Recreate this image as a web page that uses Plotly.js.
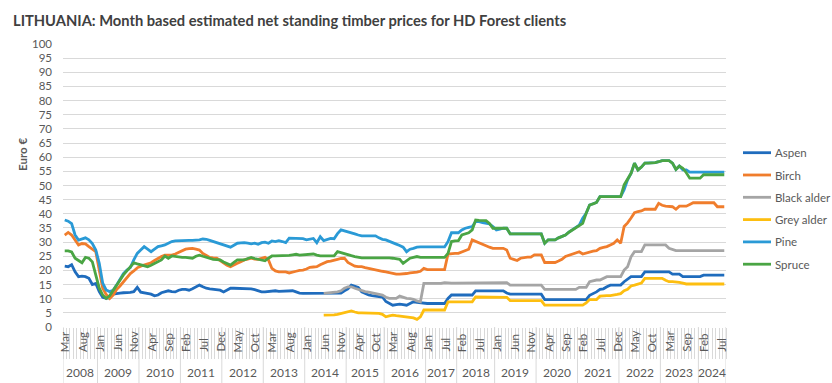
<!DOCTYPE html>
<html>
<head>
<meta charset="utf-8">
<script src="https://cdn.plot.ly/plotly-3.0.1.min.js"></script>
<style>html,body{margin:0;padding:0;background:#fff;}#chart{width:832px;height:383px;}</style>
</head>
<body>
<div id="chart"></div>
<script>
// ---- data (one value per monthly observation, Mar 2008 - Aug 2024, some months absent) ----
const years = ['2008','2009','2010','2011','2012','2013','2014','2015','2016','2017','2018','2019','2020','2021','2022','2023','2024'];
const yearCounts = [10,12,12,12,12,12,12,11,12,9,11,12,12,12,12,11,8];
const tickMonths = ['Mar','Aug','Jan','Jun','Nov','Apr','Sep','Feb','Jul','Dec','May','Oct','Mar','Aug','Jan','Jun','Nov','Apr','Oct','Mar','Aug','Jan','Jul','Feb','Jul','Jan','Jun','Nov','Apr','Sep','Feb','Jul','Dec','May','Oct','Mar','Sep','Feb','Jul'];
const tickStep = 5;
const seriesNames = ['Aspen','Birch','Black alder','Grey alder','Pine','Spruce'];

const aspen = [
21.5,21.3,22,19.5,17.8,18,17.8,17.2,15,15.4,
12.5,10.5,10.1,10.3,11.6,11.9,12,12.1,12.1,12.2,
12.5,14,12.3,12,11.8,11.6,11,11.3,12.1,12.5,
12.8,12.5,12.4,13,13.3,13.3,13,13.5,14.2,14.8,
14.2,13.7,13.5,13.3,13.2,13,12.4,13,13.7,13.7,
13.7,13.7,13.7,13.7,13.5,13.2,12.8,12.4,12.4,12.6,
12.8,12.8,12.6,12.6,12.8,12.8,12.8,12.4,12,11.9,
11.9,11.9,11.9,11.9,11.9,12,12,12.1,12,11.9,
12,12.8,13.5,14.8,14.5,14,12.4,11.8,11.3,11.1,
10.9,10.8,10.6,9,8.4,7.7,7.9,8.1,7.9,7.7,
8.3,8.9,8.7,8.5,8.3,8.3,8.3,8.3,8.3,8.3,
8.3,10.1,11.3,11.3,11.3,11.3,11.3,11.3,11.3,12.8,
12.8,12.8,12.8,12.8,12.8,12.8,12.8,12.8,12,11.6,
11.6,11.6,11.6,11.6,11.6,11.6,11.6,11.6,11.6,9.7,
9.7,9.7,9.7,9.7,9.7,9.7,9.7,9.7,9.7,9.7,
9.7,9.7,11.2,11.8,12.4,13.3,13.5,14.2,14.8,14.8,
14.8,14.8,16,16.8,17.8,17.8,17.8,17.8,19.5,19.5,
19.5,19.5,19.5,19.5,19.5,19.5,18.7,18.7,18.7,17.8,
17.8,17.8,17.8,17.8,17.8,18.3,18.3,18.3,18.3,18.3,
18.3,18.3];

const birch = [
32.5,33.4,32.5,30.8,29,29.5,29.4,28.4,27.5,26.6,
20.1,13.7,11.5,10.1,11.3,13.2,14.5,16,17.5,18.9,
19.8,20.9,21.5,21.9,22.3,22.7,23.5,24.3,24.9,25.4,
25.4,25.4,25.8,26.3,27,27.5,27.7,27.8,27.5,27.2,
26,25.2,24.6,24.4,24.3,23.5,22.5,21.8,21.3,21.8,
22.5,23.1,23.7,24,24.3,24,23.9,24.3,24.6,23.7,
20.7,19.8,19.5,19.5,19.5,19.1,19.3,19.7,20,20.1,
20.5,21.1,21.2,21.3,22,22.5,23.1,23.3,23.7,23.9,
24.2,24.3,22.8,22.2,21.5,21.3,21.3,21,20.7,20.4,
20.1,19.9,19.7,19.5,19.2,18.8,18.7,18.7,18.7,18.9,
19.1,19.2,19.4,19.7,20.7,20.3,20.3,20.3,20.3,20.3,
20.3,25.8,26,26,26,26.5,27.2,27.5,30.8,30.2,
29.6,29.2,28.7,28.2,27.8,27.8,27.8,27.8,27.2,24.3,
23.9,23.5,24.3,24.6,24.7,24.7,25.5,25.5,25.5,22.8,
22.8,22.8,22.8,23.3,23.9,24.9,25.3,25.8,26.2,26.6,
25.8,26.2,26.6,26.8,27,27.8,28.1,28.4,29,29.6,
30.8,29.6,35.5,36.8,38.5,40.4,40.8,41,41.6,41.6,
41.6,41.6,43.7,43,42.7,42.6,42.5,41.6,42.7,42.7,
42.7,43.3,43.9,43.9,43.9,43.9,43.9,43.9,43.9,42.5,
42.5,42.5];

const blackAlder = [
null,null,null,null,null,null,null,null,null,null,
null,null,null,null,null,null,null,null,null,null,
null,null,null,null,null,null,null,null,null,null,
null,null,null,null,null,null,null,null,null,null,
null,null,null,null,null,null,null,null,null,null,
null,null,null,null,null,null,null,null,null,null,
null,null,null,null,null,null,null,null,null,null,
null,null,null,null,null,11.9,12,12.1,12.2,12.4,
12.8,13.7,14.2,14.2,13.7,13.3,12.8,12.5,12.3,12.1,
11.8,11.5,11.3,10.5,10.1,10.1,10.1,10.9,10.5,10.1,
10,9.8,9.2,8.9,15.4,15.4,15.4,15.4,15.4,15.4,
15.7,15.5,15.5,15.5,15.5,15.5,15.5,15.5,15.5,15.7,
15.7,15.7,15.7,15.7,15.7,15.7,15.7,15.7,15.7,14.8,
14.8,14.8,14.8,14.8,14.8,14.8,14.8,14.8,14.8,13.3,
13.3,13.3,13.3,13.3,13.3,13.3,13.3,13.3,13.3,14,
14,14,16,16.3,16.6,16.6,17.2,17.8,17.8,17.8,
17.8,17.8,20.1,21.3,24.8,26.6,26.6,26.6,29,29,
29,29,29,29,29,27.8,27.4,27,27,27,
27,27,27,27,27,27,27,27,27,27,
27,27];

const greyAlder = [
null,null,null,null,null,null,null,null,null,null,
null,null,null,null,null,null,null,null,null,null,
null,null,null,null,null,null,null,null,null,null,
null,null,null,null,null,null,null,null,null,null,
null,null,null,null,null,null,null,null,null,null,
null,null,null,null,null,null,null,null,null,null,
null,null,null,null,null,null,null,null,null,null,
null,null,null,null,null,4.2,4.2,4.2,4.3,4.5,
4.8,5.2,5.5,5.7,5.3,5,5,5,5,5,
5,4.8,4.5,3.6,3.9,4.2,4,3.8,3.8,3.6,
3.4,3.2,2.7,3.6,6,6,6,6,6,6,
6,8.9,8.9,8.9,8.9,8.9,8.9,8.9,8.9,10.6,
10.6,10.6,10.6,10.6,10.6,10.6,10.6,10.6,10.5,9.3,
9.3,9.3,9.3,9.3,9.3,9.3,9.3,9.3,9.3,7.7,
7.7,7.7,7.7,7.7,7.7,7.7,7.7,7.7,7.7,7.7,
7.7,8.5,9.7,9.7,9.7,10.9,11.1,11.1,11.1,11.2,
11.5,11.8,12.8,13.3,14.5,14.8,15.2,15.5,17.2,17.2,
17.2,17.2,17.2,17.2,16.5,16,16,16,15.8,15.5,
15.2,15.2,15.2,15.2,15.2,15.2,15.2,15.2,15.2,15.2,
15.2,15.2];

const pine = [
37.8,37.4,36.5,32.5,30.7,31,31.5,30.8,29.5,27.2,
22.5,15.5,13.1,12.5,13,14.8,17,18.9,20.1,21,
23.7,26,27.2,28.4,27.5,26.6,27.5,28.4,28.7,29,
29.6,30.2,30.4,30.5,30.5,30.6,30.6,30.6,30.6,30.8,
31.1,31,30.6,30.2,29.8,29.4,29,28.6,28.2,28.9,
29.6,29.7,29.8,29.6,29.4,29.6,29.2,29.8,30,29.6,
30.4,30.2,30.5,30.2,29.8,31.4,31.3,31.2,31.1,31.2,
30.8,31,31.3,29.8,31.9,30.5,30.8,31.3,31.2,33,
34.3,34,33.7,33.3,32.9,32.5,32.2,32.2,32.2,32.2,
32.2,31.5,31,30.8,30.2,29.8,29.3,28.8,28.2,26.6,
27.5,27.8,28.2,28.3,28.4,28.3,28.3,28.3,28.3,28.3,
28.3,30.2,33.3,33.3,33.3,34.3,34.9,35.2,35.5,37.2,
37.2,36.9,36.6,36.4,35.5,34.3,34.6,34.9,34.9,32.9,
32.9,32.9,32.9,32.9,32.9,32.9,32.9,32.9,32.9,29.6,
30.8,30.8,30.8,31.5,32,32.5,33.5,34.3,35.2,36,
38.4,40.2,43.1,43.5,44,46.1,46.1,46.1,46.1,46.1,
46.1,46.1,48.5,52,54.3,57.9,55.5,56.5,57.9,57.9,
57.9,58.1,58.4,58.8,58.8,58.8,57.9,55.7,56.9,55.5,
55.5,54.7,54.7,54.7,54.7,54.7,54.7,54.7,54.7,54.7,
54.7,54.7];

const spruce = [
26.9,26.9,26.5,24.3,23.5,22.7,24.6,24.3,23,17.8,
13.7,11.3,10.1,11,13,14.8,16.5,18.4,19.8,21.3,
22.7,22.3,21.9,21.5,21.3,21.8,22.5,23,23.7,25.1,
24.3,25.1,24.9,24.6,24.6,24.6,24.4,24.3,25,25.4,
25,24.6,24.3,23.9,23.8,23.7,23,22.5,21.9,22.8,
23.7,23.7,23.7,24.2,24.6,24.2,23.9,23.6,23.4,24.3,
25.1,25.1,25.1,25.1,25.2,25.3,25.5,25.7,25.4,25.5,
25.6,25.7,25.8,25.4,25.1,25.1,25.1,25.1,25.1,26.6,
26.2,25.8,25.5,25.2,24.9,24.6,24.4,24.4,24.4,24.4,
24.6,24.6,24.6,24.6,24.4,24.3,24.1,23.9,22.5,23.5,
24.3,24.6,24.9,24.6,24.6,24.6,24.6,24.6,24.6,24.6,
24.6,26,30.2,30.4,30.5,32.5,32.9,33.3,34.3,37.8,
37.7,37.6,37.6,36.6,34.9,34.9,34.9,34.9,34.9,32.9,
32.9,32.9,32.9,32.9,32.9,32.9,32.9,32.9,32.9,29.6,
30.8,30.8,30.8,31.5,32,32.5,33.5,34.3,35.2,35.8,
36.6,40.2,43.1,43.5,44,46.1,46.1,46.1,46.1,46.1,
46.1,46.1,50.2,52.5,54.3,57.9,55.5,56.5,57.9,57.9,
57.9,58.1,58.4,58.8,58.8,58.8,57.9,55.7,56.9,56.1,
54.5,52.6,52.6,52.6,52.6,53.8,53.8,53.8,53.8,53.8,
53.8,53.8];

// ---- styling ----
const colors = ['#1f6cbd','#f07d2c','#a5a5a5','#fdbe10','#2a9ad6','#4aa544'];
const FONT = 'Lato, "Open Sans", sans-serif';
const TXT = '#595959';
const GRID = '#d9d9d9';

const seriesValues = [aspen, birch, blackAlder, greyAlder, pine, spruce];
const n = aspen.length;
const xIdx = aspen.map((_, i) => i);

const traces = seriesValues.map((vals, k) => ({
  type: 'scatter', mode: 'lines', name: seriesNames[k],
  x: xIdx, y: vals, connectgaps: false,
  line: {color: colors[k], width: 2.8},
  showlegend: false, hoverinfo: 'skip'
}));

// plot geometry in px (for paper conversion of the under-axis labels and legend)
const M = {l: 63, r: 106, t: 44, b: 56};
const H = 383, W = 832;
const ph = H - M.t - M.b;
const pw = W - M.l - M.r;
const pyPaper = px => -(px - (H - M.b)) / ph;
const pxPaperX = px => (px - M.l) / pw;

const annotations = [];
const shapes = [];
// month labels (every tickStep observations), bottom aligned like the original
tickMonths.forEach((m, k) => {
  annotations.push({
    xref: 'x', yref: 'paper', x: k * tickStep, y: pyPaper(354),
    text: m, textangle: -90, showarrow: false, xanchor: 'center', yanchor: 'bottom',
    font: {family: FONT, size: 11.5, color: TXT}
  });
});
// year labels and separators
let start = 0;
shapes.push({type: 'line', xref: 'x', yref: 'paper', x0: -0.5, x1: -0.5, y0: 0, y1: pyPaper(383), line: {color: GRID, width: 1}});
years.forEach((yr, k) => {
  const end = start + yearCounts[k];
  annotations.push({
    xref: 'x', yref: 'paper', x: (start + end - 1) / 2, y: pyPaper(372.5),
    text: yr, showarrow: false, xanchor: 'center', yanchor: 'middle',
    font: {family: FONT, size: 12, color: TXT}
  });
  shapes.push({type: 'line', xref: 'x', yref: 'paper', x0: end - 0.5, x1: end - 0.5, y0: 0, y1: pyPaper(383), line: {color: GRID, width: 1}});
  start = end;
});
// y axis title
annotations.push({
  xref: 'paper', yref: 'paper', x: pxPaperX(22), y: (H - M.b - 155) / ph,
  text: '<b>Euro €</b>', textangle: -90, showarrow: false, xanchor: 'center', yanchor: 'middle',
  font: {family: FONT, size: 11.5, color: TXT}
});
// legend (right side, drawn as key lines + labels)
seriesNames.forEach((name, k) => {
  const yPx = 152.7 + k * 22.3;
  const yP = (H - M.b - yPx) / ph;
  shapes.push({type: 'line', xref: 'paper', yref: 'paper', x0: pxPaperX(743), x1: pxPaperX(771), y0: yP, y1: yP,
    line: {color: colors[k], width: 2.8}});
  annotations.push({
    xref: 'paper', yref: 'paper', x: pxPaperX(773), y: yP, text: name, showarrow: false,
    xanchor: 'left', yanchor: 'middle', font: {family: FONT, size: 11.5, color: TXT}
  });
});

const layout = {
  width: W, height: H,
  margin: M,
  paper_bgcolor: '#fff', plot_bgcolor: '#fff',
  font: {family: FONT, color: TXT},
  title: {
    text: '<b>LITHUANIA: Month based estimated net standing timber prices for HD Forest clients</b>',
    x: 13 / W, xanchor: 'left', xref: 'container',
    y: 1 - 21 / H, yanchor: 'middle', yref: 'container',
    font: {family: FONT, size: 14.7, color: '#404040'}
  },
  xaxis: {
    range: [-0.5, n - 0.5], showgrid: false, zeroline: false, showline: false,
    tickmode: 'linear', tick0: 0, dtick: tickStep, showticklabels: false, ticks: '',
    minor: {tickmode: 'linear', tick0: -0.5, dtick: 1, ticks: 'outside', ticklen: 31, tickcolor: GRID, tickwidth: 1, showgrid: false},
    fixedrange: true
  },
  yaxis: {
    range: [0, 100], dtick: 5, tick0: 0, showgrid: true, gridcolor: GRID, gridwidth: 1,
    zeroline: false, showline: false, ticks: '', ticklabelstandoff: 10,
    tickfont: {family: FONT, size: 11.5, color: TXT}, fixedrange: true
  },
  showlegend: false,
  annotations: annotations,
  shapes: shapes
};

Plotly.newPlot('chart', traces, layout, {displayModeBar: false, staticPlot: true});
</script>
</body>
</html>
